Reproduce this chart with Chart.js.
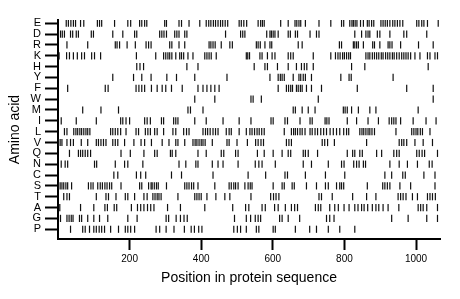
<!DOCTYPE html>
<html>
<head>
<meta charset="utf-8">
<style>
  html, body { margin: 0; padding: 0; background: #fff; }
  #wrap { width: 460px; height: 299px; }
</style>
</head>
<body>
<div id="wrap"><canvas id="residue-chart" width="460" height="299"></canvas></div>
<script src="https://cdn.jsdelivr.net/npm/chart.js@4/dist/chart.umd.min.js"></script>
<script>
// Rows, top to bottom
const aminoAcids = ["E", "D", "R", "K", "H", "Y", "F", "W", "M", "I", "L", "V", "Q", "N", "C", "S", "T", "A", "G", "P"];
const xTicks = [200, 400, 600, 800, 1000];
const seqLength = 1067;

// Positions in the sequence for each residue
const posE = [23, 29, 36, 43, 49, 63, 72, 110, 116, 122, 158, 195, 203, 228, 234, 242, 248, 298, 303, 338, 345, 366, 396, 414, 421, 427, 434, 440, 447, 454, 460, 467, 474, 506, 512, 519, 527, 559, 566, 571, 576, 622, 643, 662, 667, 673, 678, 691, 729, 762, 792, 798, 815, 821, 825, 830, 835, 845, 853, 864, 869, 876, 882, 902, 908, 914, 920, 927, 935, 941, 948, 955, 963, 1002, 1008, 1016, 1022, 1032, 1062];
const posD = [1, 7, 12, 18, 35, 41, 51, 57, 93, 99, 153, 181, 214, 220, 284, 290, 296, 303, 326, 332, 338, 354, 360, 468, 510, 516, 522, 583, 592, 596, 601, 606, 615, 643, 649, 663, 669, 704, 722, 729, 829, 848, 860, 866, 871, 892, 899, 927, 966, 974, 1030];
const posR = [25, 83, 160, 165, 172, 193, 216, 246, 253, 260, 312, 318, 338, 354, 422, 427, 433, 439, 456, 480, 487, 554, 559, 565, 578, 592, 597, 671, 682, 786, 792, 825, 829, 834, 839, 853, 879, 884, 899, 922, 927, 933, 957, 1007, 1048];
const posK = [3, 24, 32, 43, 54, 66, 74, 94, 102, 119, 219, 273, 295, 301, 307, 312, 318, 329, 340, 345, 351, 363, 377, 410, 416, 422, 428, 442, 526, 530, 535, 564, 570, 585, 598, 606, 643, 650, 657, 713, 762, 775, 782, 788, 795, 800, 806, 812, 817, 860, 866, 871, 878, 884, 890, 896, 903, 908, 915, 921, 927, 934, 939, 946, 953, 960, 966, 972, 978, 985, 997, 1011, 1032, 1039, 1053, 1060];
const posH = [220, 229, 239, 360, 391, 548, 578, 585, 613, 643, 666, 680, 688, 695, 713, 820, 857, 1034];
const posY = [153, 211, 234, 260, 304, 331, 382, 472, 592, 615, 621, 626, 632, 657, 673, 678, 685, 691, 708, 790, 813, 819, 936];
const posF = [27, 132, 140, 218, 226, 234, 242, 261, 277, 291, 301, 317, 347, 391, 405, 416, 427, 438, 450, 615, 638, 644, 650, 655, 666, 671, 677, 682, 694, 708, 736, 836, 974, 1048];
const posW = [382, 438, 539, 545, 568, 727, 1048];
const posM = [69, 120, 169, 363, 370, 405, 657, 663, 682, 699, 718, 797, 802, 808, 820, 839, 871, 888, 1006];
const posI = [9, 51, 107, 175, 181, 190, 200, 242, 249, 258, 289, 295, 323, 329, 335, 382, 414, 461, 506, 539, 595, 601, 634, 641, 676, 704, 710, 746, 751, 757, 808, 834, 866, 895, 925, 932, 938, 944, 957, 992, 1028, 1056];
const posL = [18, 25, 44, 50, 55, 61, 66, 72, 78, 83, 89, 147, 153, 160, 167, 175, 190, 218, 225, 244, 251, 258, 270, 277, 295, 321, 329, 351, 359, 366, 405, 412, 418, 425, 433, 440, 447, 470, 478, 484, 506, 526, 536, 542, 549, 556, 562, 569, 576, 632, 652, 658, 663, 669, 676, 682, 690, 704, 710, 718, 725, 734, 742, 750, 760, 769, 778, 787, 798, 806, 812, 843, 849, 854, 860, 866, 871, 877, 884, 944, 988, 994, 1000, 1005, 1012, 1018, 1039];
const posV = [1, 6, 11, 25, 35, 43, 65, 83, 107, 113, 120, 127, 134, 153, 160, 167, 186, 212, 232, 242, 261, 291, 310, 329, 335, 354, 377, 383, 388, 394, 400, 405, 411, 431, 472, 478, 500, 529, 552, 559, 567, 574, 638, 645, 652, 738, 745, 753, 772, 862, 953, 960, 966, 974, 997, 1020, 1046];
const posQ = [32, 57, 63, 69, 76, 83, 91, 176, 202, 240, 270, 277, 314, 319, 329, 391, 414, 456, 463, 496, 503, 557, 576, 601, 626, 643, 650, 685, 691, 699, 725, 808, 823, 829, 843, 850, 890, 904, 938, 946, 953, 1002, 1009, 1017, 1024, 1060];
const posN = [9, 20, 27, 102, 108, 160, 186, 195, 237, 338, 357, 385, 391, 431, 447, 461, 503, 551, 561, 570, 607, 685, 708, 755, 792, 799, 826, 834, 841, 853, 859, 927, 953, 976, 1004, 1037, 1045];
const posC = [156, 167, 219, 231, 245, 317, 345, 433, 531, 580, 634, 641, 691, 747, 801, 913, 932, 963, 970, 1022, 1053];
const posS = [1, 6, 11, 16, 22, 27, 38, 85, 92, 98, 111, 118, 124, 131, 137, 144, 150, 176, 228, 234, 253, 260, 263, 269, 275, 280, 303, 354, 360, 366, 373, 379, 391, 438, 478, 484, 491, 496, 503, 522, 531, 537, 542, 601, 626, 632, 654, 660, 694, 722, 747, 755, 778, 787, 792, 798, 864, 907, 913, 920, 927, 955, 985, 1053];
const posT = [16, 25, 32, 107, 134, 141, 162, 188, 195, 214, 240, 249, 265, 271, 277, 282, 288, 335, 382, 388, 394, 400, 416, 441, 466, 480, 539, 594, 602, 609, 617, 729, 736, 766, 823, 862, 888, 950, 957, 964, 972, 990, 1004, 1032, 1039, 1046, 1054];
const posA = [5, 63, 100, 131, 138, 157, 164, 205, 222, 231, 240, 250, 259, 268, 306, 342, 410, 488, 524, 533, 570, 579, 605, 615, 635, 652, 661, 669, 719, 727, 734, 759, 773, 783, 799, 813, 829, 838, 848, 855, 865, 878, 888, 896, 908, 922, 952, 1006, 1013, 1020, 1030, 1060];
const posG = [7, 25, 31, 37, 42, 60, 66, 83, 100, 116, 139, 195, 221, 302, 309, 330, 342, 352, 361, 493, 526, 538, 551, 559, 566, 619, 626, 643, 675, 750, 759, 771, 932, 978, 1030, 1060];
const posP = [35, 69, 76, 88, 100, 107, 115, 122, 130, 147, 169, 188, 195, 203, 214, 274, 284, 302, 324, 353, 372, 381, 393, 402, 491, 501, 510, 526, 554, 561, 601, 607, 663, 703, 722, 755, 787, 829];

const residuePositions = [posE, posD, posR, posK, posH, posY, posF, posW, posM, posI,
    posL, posV, posQ, posN, posC, posS, posT, posA, posG, posP];

const rowCount = aminoAcids.length;
const fontFamily = "'Liberation Sans', Arial, sans-serif";

// one dataset per row, y = row index counted from the bottom
let residueData = {
    datasets: residuePositions.map((list, i) => ({
        label: aminoAcids[i],
        data: list.map(p => ({ x: p, y: rowCount - 1 - i })),
        pointStyle: 'line',
        rotation: 90,
        radius: 3.6,
        borderWidth: 1.2,
        borderColor: '#111',
        backgroundColor: '#111'
    }))
};

let residueOptions = {
    responsive: false,
    animation: false,
    events: [],
    layout: {
        autoPadding: false,
        padding: { top: 20, right: 20, bottom: 0, left: 0 }
    },
    scales: {
        x: {
            type: 'linear',
            min: 0,
            max: seqLength,
            afterBuildTicks: scale => { scale.ticks = xTicks.map(v => ({ value: v })); },
            afterFit: scale => { scale.height = 60; },
            ticks: {
                padding: 3,
                color: '#000',
                font: { family: fontFamily, size: 10 },
                callback: v => String(v)
            },
            grid: { drawOnChartArea: false, tickLength: 11, tickWidth: 2, tickColor: '#000' },
            border: { display: true, color: '#000', width: 2 },
            title: {
                display: true,
                text: 'Position in protein sequence',
                color: '#000',
                font: { family: fontFamily, size: 14 },
                padding: { top: 4, bottom: 12 }
            }
        },
        y: {
            type: 'linear',
            min: -0.9,
            max: 19.3,
            afterBuildTicks: scale => {
                scale.ticks = aminoAcids.map((a, i) => ({ value: rowCount - 1 - i }));
            },
            afterFit: scale => { scale.width = 58; },
            ticks: {
                autoSkip: false,
                padding: 4,
                color: '#000',
                font: { family: fontFamily, size: 11 },
                callback: v => aminoAcids[rowCount - 1 - v]
            },
            grid: { drawOnChartArea: false, tickLength: 13, tickWidth: 2, tickColor: '#000' },
            border: { display: true, color: '#000', width: 2 },
            title: {
                display: true,
                text: 'Amino acid',
                color: '#000',
                font: { family: fontFamily, size: 14 },
                padding: { top: 7, bottom: 0 }
            }
        }
    },
    plugins: {
        legend: { display: false },
        tooltip: { enabled: false }
    }
};

let residueChart = new Chart(document.getElementById("residue-chart"), {
    type: 'scatter',
    data: residueData,
    options: residueOptions
});
</script>
</body>
</html>
